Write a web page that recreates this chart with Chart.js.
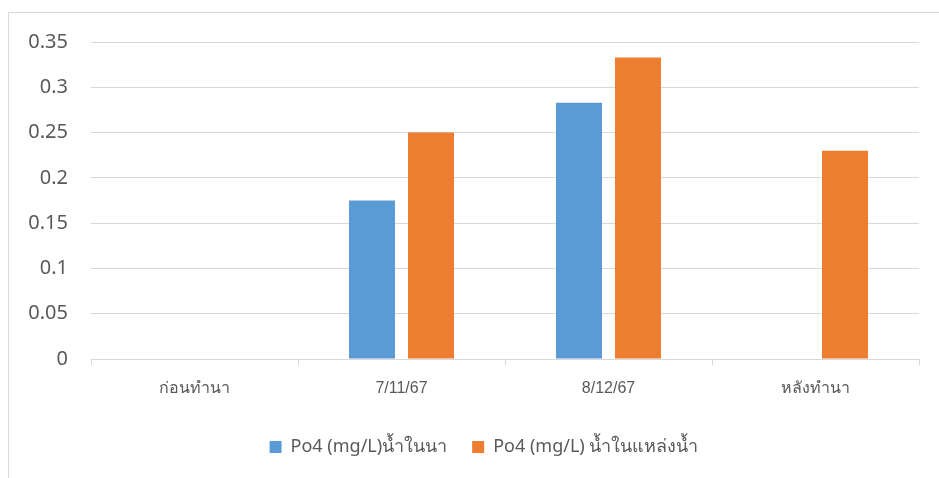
<!DOCTYPE html>
<html><head><meta charset="utf-8">
<script src="https://cdn.jsdelivr.net/npm/chart.js@4"></script>
<style>
html,body{margin:0;padding:0;background:#fff;overflow:hidden;}
#box{position:absolute;left:8px;top:12px;width:940px;height:480px;border:1px solid #d9d9d9;box-sizing:border-box;}
#c{position:absolute;left:0;top:-6px;}
</style></head><body>
<div id="box"><canvas id="c" width="940" height="466"></canvas></div>
<script>
const categories = ['ก่อนทำนา','7/11/67','8/12/67','หลังทำนา'];
const seriesNames = ['Po4 (mg/L)น้ำในนา','Po4 (mg/L) น้ำในแหล่งน้ำ'];
const fieldWater = [null, 0.175, 0.283, null];
const sourceWater = [null, 0.25, 0.333, 0.23];
const yTicks = [0,0.05,0.1,0.15,0.2,0.25,0.3,0.35];

const shiftLegend = {
  id:'shiftLegend',
  afterLayout(chart){ const l = chart.legend; if (l) { l.left += 40; } }
};

new Chart(document.getElementById('c'), {
  type:'bar',
  data:{labels:categories, datasets:[
    {label:seriesNames[0], data:fieldWater, backgroundColor:'#5b9bd5', categoryPercentage:0.57, barPercentage:0.78},
    {label:seriesNames[1], data:sourceWater, backgroundColor:'#ed7d31', categoryPercentage:0.57, barPercentage:0.78}
  ]},
  plugins:[shiftLegend],
  options:{
    responsive:false, animation:false,
    layout:{padding:{left:0,right:30,top:12,bottom:7}},
    plugins:{
      tooltip:{enabled:false},
      legend:{position:'bottom', labels:{boxWidth:12, boxHeight:12, padding:25, color:'#595959', font:{family:'"Noto Sans", sans-serif', size:18}}}
    },
    scales:{
      x:{grid:{offset:true, drawOnChartArea:false, drawTicks:true, tickLength:6, color:'#d9d9d9'}, border:{color:'#d9d9d9'},
         ticks:{color:'#595959', padding:16, font:{family:'"Liberation Sans Narrow", sans-serif', size:16, lineHeight:1.0}}},
      y:{min:0, max:0.35, afterBuildTicks:(a)=>{a.ticks=yTicks.map(v=>({value:v}));},
         afterFit:(a)=>{a.width=82;},
         grid:{color:'#d9d9d9', drawTicks:false}, border:{display:false},
         ticks:{color:'#595959', padding:23, font:{family:'"Noto Sans", sans-serif', size:20}, callback:(v)=>String(v)}}
    }
  }
});
</script></body></html>
